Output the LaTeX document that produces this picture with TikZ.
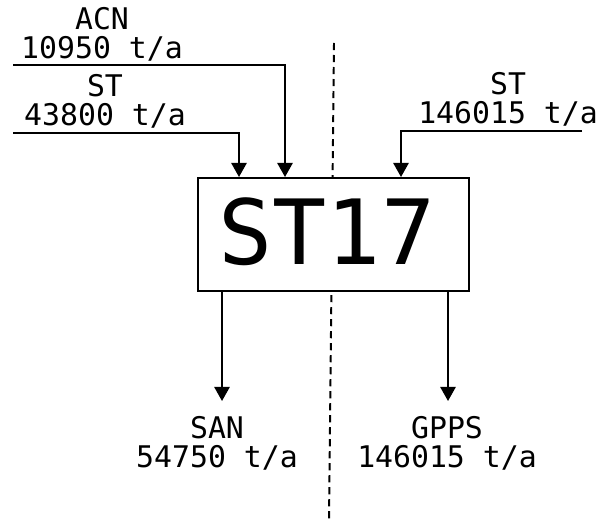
\documentclass[tikz,border=0pt]{standalone}
\usepackage{fontspec}
\setmainfont{DejaVu Sans Mono}
\usetikzlibrary{arrows.meta,positioning}

\begin{document}
\begin{tikzpicture}[x=0.025cm, y=-0.025cm, >={Triangle[width=0.38cm,length=0.35cm]}, line width=1.4pt,
  lbl/.style={align=center, inner sep=0pt, font=\fontsize{21.2pt}{20.6pt}\selectfont}]
  \useasboundingbox (0,0) rectangle (603,524);
  % dividing line
  \draw[dash pattern=on 0.18cm off 0.12cm] (334,43) -- (329,522);
  \node[draw, fill=white, minimum width=6.775cm, minimum height=2.825cm] (st17) at (333.5,234.5) {};
  \node[font=\fontsize{64pt}{64pt}\selectfont] (st17txt) at (327,232) {ST17};

  % feeds
  \node[lbl] (acn) at (102,34) {ACN\\10950 t/a};
  \node[lbl] (stl) at (105,101.5) {ST\\43800 t/a};
  \node[lbl] (str) at (508,99) {ST\\146015 t/a};
  \coordinate (acnin) at (13,65);
  \coordinate (stlin) at (13,133);
  \coordinate (strin) at (582,131);
  \draw[->] (acnin) -| (285,0 |- st17.north);
  \draw[->] (stlin) -| (239,0 |- st17.north);
  \draw[->] (strin) -| (401,0 |- st17.north);

  % products
  \node[lbl] (san) at (217,443) {SAN\\54750 t/a};
  \node[lbl] (gpps) at (447,443) {GPPS\\146015 t/a};
  \coordinate (sanout) at (222,401);
  \coordinate (gppsout) at (448,401);
  \draw[->] (sanout |- st17.south) -- (sanout);
  \draw[->] (gppsout |- st17.south) -- (gppsout);
\end{tikzpicture}
\end{document}
